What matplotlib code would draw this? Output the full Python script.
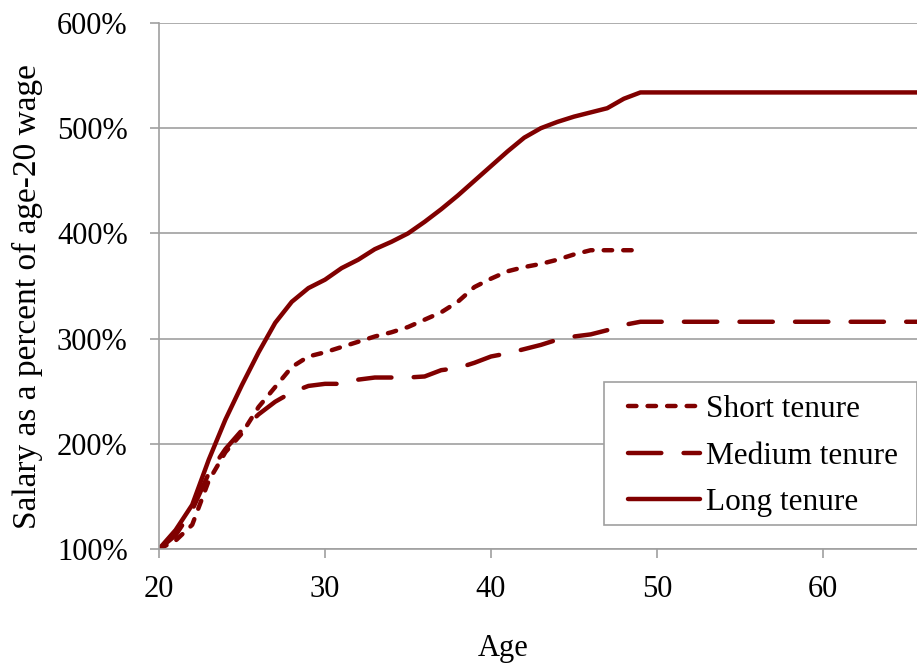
import matplotlib
matplotlib.use("Agg")
import matplotlib.pyplot as plt
import matplotlib.ticker as mtick
from matplotlib.patches import Rectangle
import numpy as np

plt.rcParams['font.family'] = ['Liberation Serif', 'DejaVu Serif']

# ages and salary as percent of age-20 wage
ages_short = list(range(20, 50))
short_tenure = [100, 108, 123, 165, 192, 210, 235, 254, 273, 283, 287, 292, 297, 302, 306,
                311, 318, 325, 335, 349, 357, 364, 368, 371, 375, 380, 384, 384, 384, 384]

ages_full = list(range(20, 67))
medium_tenure = [100, 113, 137, 172, 195, 213, 228, 240, 249, 255, 257, 257, 261, 263, 263,
                 263, 264, 270, 272, 277, 283, 286, 290, 294, 299, 302, 304, 308, 313, 316] + [316] * 17
long_tenure = [100, 118, 142, 185, 223, 256, 287, 315, 335, 348, 356, 367, 375, 385, 392,
               400, 411, 423, 436, 450, 464, 478, 491, 500, 506, 511, 515, 519, 528, 534] + [534] * 17

COLOR = "#800000"
GRID = "#a0a0a0"
LW = 3.2

fig = plt.figure(figsize=(9.17, 6.71), dpi=100)
ax = fig.add_axes([159 / 917, 1 - 549 / 671, (917 - 159) / 917, (549 - 23) / 671])

ax.plot(ages_short, short_tenure, color=COLOR, lw=LW, dashes=(1.9, 2.5),
        dash_capstyle="round", label="Short tenure")
ax.plot(ages_full, medium_tenure, color=COLOR, lw=LW, dashes=(7.5, 5.0),
        dash_capstyle="round", label="Medium tenure")
ax.plot(ages_full, long_tenure, color=COLOR, lw=LW, solid_capstyle="round", label="Long tenure")

ax.set_xlim(20, 65.66)
ax.set_ylim(100, 600)
ax.set_xticks([20, 30, 40, 50, 60])
ax.set_yticks([100, 200, 300, 400, 500, 600])
ax.yaxis.set_major_formatter(mtick.FuncFormatter(lambda v, p: "%d%%" % v))

ax.grid(axis="y", color=GRID, lw=1.2)
ax.set_axisbelow(True)
for s in ["top", "right"]:
    ax.spines[s].set_visible(False)
for s in ["left", "bottom"]:
    ax.spines[s].set_color(GRID)
    ax.spines[s].set_linewidth(1.2)
ax.tick_params(axis="both", colors=GRID, length=6.5, width=1.2, labelsize=22,
               labelcolor="black")
ax.tick_params(axis="x", pad=12)
ax.tick_params(axis="y", pad=16)

ax.set_xlabel("Age", fontsize=22)
ax.xaxis.set_label_coords((503 - 159) / 758, -(634 - 549) / 526)
ax.set_ylabel("Salary as a percent of age-20 wage", fontsize=24)
ax.yaxis.set_label_coords((43 - 159) / 758, (549 - 297) / 526)

# legend box (white, grey border) and its entries
box = Rectangle(((604 - 159) / 758, (549 - 525) / 526), (917 - 604) / 758, (525 - 382) / 526,
                transform=ax.transAxes, facecolor="white", edgecolor=GRID, lw=1.2,
                clip_on=False, zorder=4)
ax.add_patch(box)
leg = ax.legend(loc="upper left", bbox_to_anchor=((628 - 159) / 758, (549 - 395) / 526),
                fontsize=22.5, frameon=False, handlelength=2.3, handletextpad=0.2,
                borderpad=0, labelspacing=0.56, borderaxespad=0)
leg.set_zorder(5)

fig.savefig("out.png", dpi=100)
